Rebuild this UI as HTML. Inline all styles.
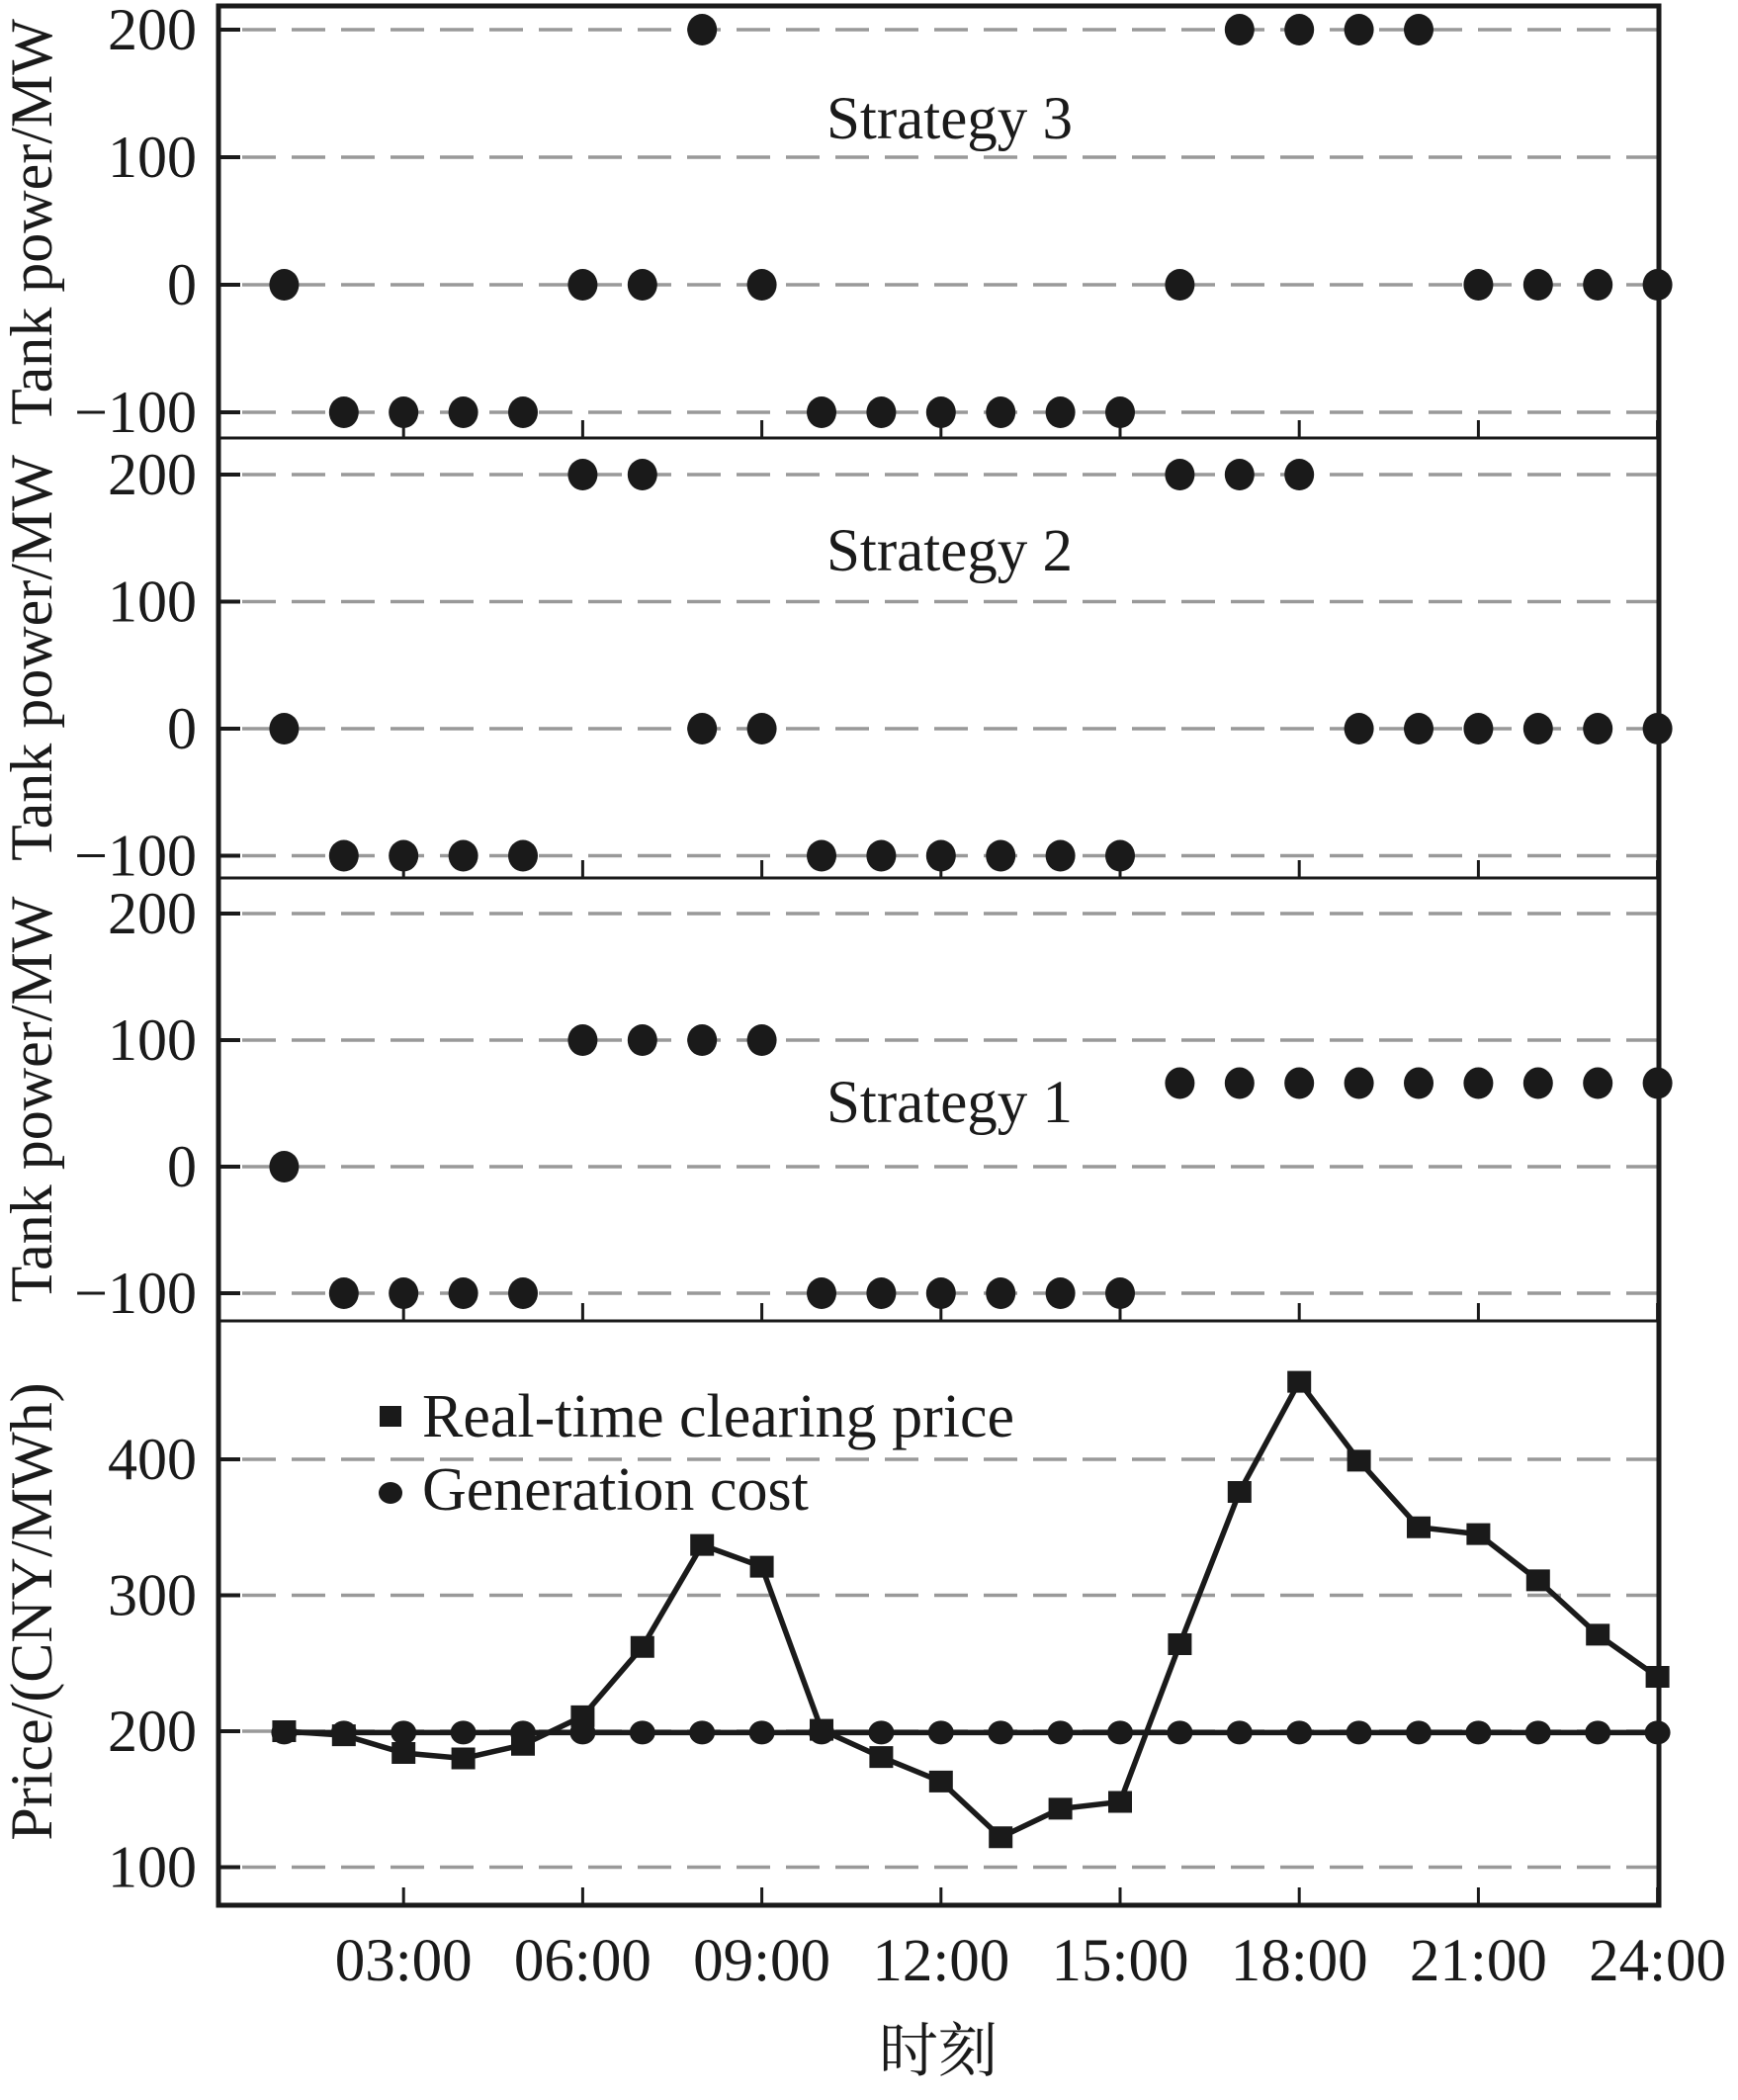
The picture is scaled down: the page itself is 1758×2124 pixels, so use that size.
<!DOCTYPE html>
<html><head><meta charset="utf-8"><style>
html,body{margin:0;padding:0;background:#fff;}
svg{display:block;}
text{font-family:"Liberation Serif","Noto Serif CJK SC",serif;fill:#1a1a1a;}
</style></head><body>
<svg id="chart" width="1758" height="2124" viewBox="0 0 1758 2124" xmlns="http://www.w3.org/2000/svg"></svg>
<script>
const hours = [1,2,3,4,5,6,7,8,9,10,11,12,13,14,15,16,17,18,19,20,21,22,23,24];
const strategy3 = [0,-100,-100,-100,-100,0,0,200,0,-100,-100,-100,-100,-100,-100,0,200,200,200,200,0,0,0,0];
const strategy2 = [0,-100,-100,-100,-100,200,200,0,0,-100,-100,-100,-100,-100,-100,200,200,200,0,0,0,0,0,0];
const strategy1 = [0,-100,-100,-100,-100,100,100,100,100,-100,-100,-100,-100,-100,-100,66,66,66,66,66,66,66,66,66];
const clearingPrice = [200,197,184,180,190,211,262,337,321,201,181,163,122,143,148,264,376,457,399,350,345,311,271,240];
const generationCost = [199,199,199,199,199,199,199,199,199,199,199,199,199,199,199,199,199,199,199,199,199,199,199,199];
const tankTicks = [200,100,0,-100];
const priceTicks = [400,300,200,100];
const xTickHours = [3,6,9,12,15,18,21,24];
const xTickLabels = ["03:00","06:00","09:00","12:00","15:00","18:00","21:00","24:00"];

const svg = document.getElementById('chart');
const NS = 'http://www.w3.org/2000/svg';
function mk(tag, attrs, parent){
  const e = document.createElementNS(NS, tag);
  for (const k in attrs) e.setAttribute(k, attrs[k]);
  (parent||svg).appendChild(e);
  return e;
}
const L = 221, R = 1678;
function xs(h){ return 227 + h * 60.4; }

const panels = [
  {name:'strategy-3', top:6, bottom:443, y0:288, per100:129, data:strategy3, label:'Strategy 3', ly:120},
  {name:'strategy-2', top:443, bottom:888, y0:737, per100:128.5, data:strategy2, label:'Strategy 2', ly:557},
  {name:'strategy-1', top:888, bottom:1336, y0:1180, per100:128, data:strategy1, label:'Strategy 1', ly:1115}
];

panels.forEach(p => {
  const g = mk('g', {});
  
  
  const ys = v => p.y0 - v / 100 * p.per100;
  tankTicks.forEach(t => {
    const y = ys(t);
    const gl = mk('line', {x1:L+24, x2:R, y1:y, y2:y, stroke:'#999', 'stroke-width':3.5, 'stroke-dasharray':'34 16'}, g);
    
    
    mk('line', {x1:L, x2:L+22, y1:y, y2:y, stroke:'#1a1a1a', 'stroke-width':4}, g);
    const tl = mk('text', {x:L-22, y:y+20, 'font-size':60, 'text-anchor':'end'}, g);
    tl.textContent = t < 0 ? '\u2212' + Math.abs(t) : String(t);
    
    
  });
  xTickHours.forEach(h => {
    mk('line', {x1:xs(h), x2:xs(h), y1:p.bottom, y2:p.bottom-18, stroke:'#1a1a1a', 'stroke-width':3}, g);
  });
  hours.forEach((h, i) => {
    const c = mk('ellipse', {cx:xs(h), cy:ys(p.data[i]), rx:15, ry:16, fill:'#1a1a1a'}, g);
    
    
  });
  const lab = mk('text', {x:836, y:p.ly+20, 'font-size':61}, g);
  lab.textContent = p.label;
  
  
  const yt = mk('text', {transform:'translate(52,' + ((p.top+p.bottom)/2) + ') rotate(-90)', 'font-size':60, 'text-anchor':'middle'}, g);
  yt.textContent = 'Tank power/MW';
  
  
  mk('line', {x1:L, x2:R, y1:p.bottom, y2:p.bottom, stroke:'#1a1a1a', 'stroke-width':3}, g);
});

// price panel
const pg = mk('g', {});


const PB = 1927;
const yp = v => 1751 - (v - 200) / 100 * 137.5;
priceTicks.forEach(t => {
  const y = yp(t);
  const gl = mk('line', {x1:L+24, x2:R, y1:y, y2:y, stroke:'#999', 'stroke-width':3.5, 'stroke-dasharray':'34 16'}, pg);
  
  
  mk('line', {x1:L, x2:L+22, y1:y, y2:y, stroke:'#1a1a1a', 'stroke-width':4}, pg);
  const tl = mk('text', {x:L-22, y:y+20, 'font-size':60, 'text-anchor':'end'}, pg);
  tl.textContent = String(t);
  
  
});
xTickHours.forEach((h, i) => {
  mk('line', {x1:xs(h), x2:xs(h), y1:PB, y2:PB-18, stroke:'#1a1a1a', 'stroke-width':3}, pg);
  const tl = mk('text', {x:xs(h), y:2003, 'font-size':61, 'text-anchor':'middle'}, pg);
  tl.textContent = xTickLabels[i];
  
  
});
const genPath = mk('polyline', {points: hours.map((h,i)=>xs(h)+','+yp(generationCost[i])).join(' '), fill:'none', stroke:'#1a1a1a', 'stroke-width':5.5}, pg);


const pricePath = mk('polyline', {points: hours.map((h,i)=>xs(h)+','+yp(clearingPrice[i])).join(' '), fill:'none', stroke:'#1a1a1a', 'stroke-width':5.5}, pg);


hours.forEach((h, i) => {
  const c = mk('ellipse', {cx:xs(h), cy:yp(generationCost[i]), rx:13, ry:12, fill:'#1a1a1a'}, pg);
  
  
});
hours.forEach((h, i) => {
  const s = mk('rect', {x:xs(h)-12, y:yp(clearingPrice[i])-11, width:24, height:22, fill:'#1a1a1a'}, pg);
  
  
});
// legend
const lg = mk('g', {}, pg);


mk('rect', {x:384, y:1422, width:22, height:21, fill:'#1a1a1a'}, lg);
const lt1 = mk('text', {x:427, y:1453, 'font-size':62}, lg);
lt1.textContent = 'Real-time clearing price';


mk('ellipse', {cx:395, cy:1510, rx:12, ry:11, fill:'#1a1a1a'}, lg);
const lt2 = mk('text', {x:427, y:1527, 'font-size':62}, lg);
lt2.textContent = 'Generation cost';



const pt = mk('text', {transform:'translate(52,1630) rotate(-90)', 'font-size':60, 'text-anchor':'middle'}, pg);
pt.textContent = 'Price/(CNY/MWh)';



const xt = mk('text', {x:949, y:2095, 'font-size':60, 'text-anchor':'middle'});
xt.textContent = '时刻';



// outer frame
const fr = mk('rect', {x:L, y:6, width:R-L, height:PB-6, fill:'none', stroke:'#1a1a1a', 'stroke-width':5});


</script>
</body></html>
